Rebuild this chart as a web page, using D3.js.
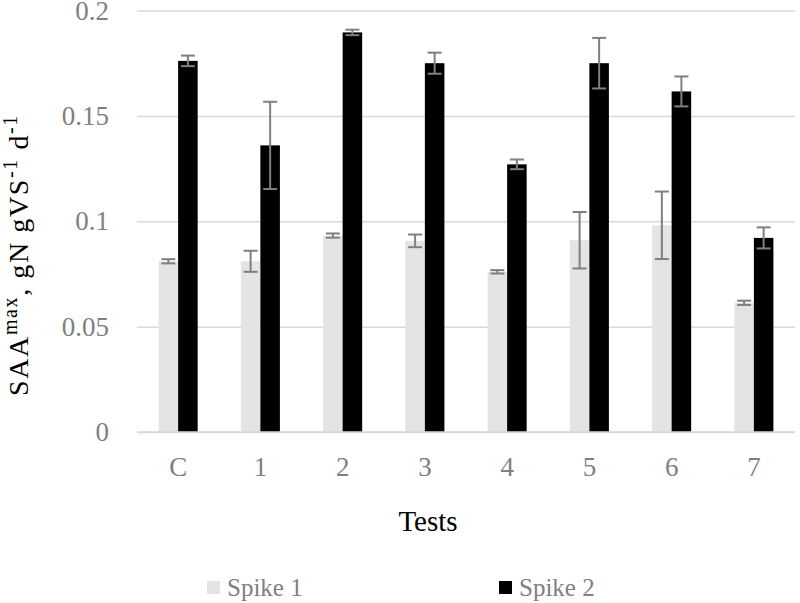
<!DOCTYPE html>
<html>
<head>
<meta charset="utf-8">
<script src="https://cdn.jsdelivr.net/npm/d3@7"></script>
<style>
  html, body { margin: 0; padding: 0; background: #fff; }
  svg { display: block; }
</style>
</head>
<body>
<svg id="chart" width="800" height="603"></svg>
<script>
const categories = ["C", "1", "2", "3", "4", "5", "6", "7"];
const seriesNames = ["Spike 1", "Spike 2"];
const spike1 = [0.081, 0.081, 0.0932, 0.0907, 0.076, 0.091, 0.0981, 0.0613];
const spike1Err = [0.001, 0.005, 0.001, 0.003, 0.0008, 0.0134, 0.016, 0.001];
const spike2 = [0.1761, 0.136, 0.1896, 0.175, 0.127, 0.175, 0.1616, 0.0921];
const spike2Err = [0.0025, 0.0207, 0.0013, 0.005, 0.0023, 0.012, 0.0071, 0.005];
const yTicks = [0, 0.05, 0.1, 0.15, 0.2];
const yTickLabels = ["0", "0.05", "0.1", "0.15", "0.2"];
const colors = ["#e4e4e4", "#000000"];

const svg = d3.select("#chart");
const font = "Liberation Serif";
const mLeft = 137, mRight = 795, mTop = 10.5, mBottom = 432;

const x0 = d3.scaleBand().domain(categories).range([mLeft, mRight])
  .paddingInner(0.525).paddingOuter(0.2625);
const x1 = d3.scaleBand().domain(seriesNames).range([0, x0.bandwidth()]);
const y = d3.scaleLinear().domain([0, 0.2]).range([mBottom, mTop]);

// gridlines
const yAxis = d3.axisLeft(y).tickValues(yTicks)
  .tickFormat((d, i) => yTickLabels[i])
  .tickSize(-(mRight - mLeft)).tickPadding(28);
const gy = svg.append("g").attr("transform", `translate(${mLeft},0)`).call(yAxis)
  .attr("font-family", font).attr("font-size", 27);
gy.select(".domain").remove();
gy.selectAll(".tick line").attr("stroke", "#d9d9d9").attr("stroke-width", 1.5);
gy.selectAll(".tick text").attr("fill", "#808080");

// bars
const data = categories.map((c, i) => ({
  cat: c,
  vals: [
    { s: seriesNames[0], v: spike1[i], e: spike1Err[i], c: colors[0] },
    { s: seriesNames[1], v: spike2[i], e: spike2Err[i], c: colors[1] }
  ]
}));

const groups = svg.append("g").selectAll("g").data(data).join("g")
  .attr("transform", d => `translate(${x0(d.cat)},0)`);
groups.selectAll("rect").data(d => d.vals).join("rect")
  .attr("x", d => x1(d.s))
  .attr("width", x1.bandwidth())
  .attr("y", d => y(d.v))
  .attr("height", d => y(0) - y(d.v))
  .attr("fill", d => d.c);

// x axis line
const xAxis = d3.axisBottom(x0).tickSize(0).tickPadding(25);
const gx = svg.append("g").attr("transform", `translate(0,${mBottom})`).call(xAxis)
  .attr("font-family", font).attr("font-size", 27);
gx.select(".domain").attr("stroke", "#d9d9d9").attr("stroke-width", 1.5)
  .attr("d", `M${mLeft},0H${mRight}`);
gx.selectAll(".tick text").attr("fill", "#808080");

// error bars
const eb = groups.selectAll("g.err").data(d => d.vals).join("g").attr("class", "err");
const cap = 7;
eb.append("line")
  .attr("x1", d => x1(d.s) + x1.bandwidth() / 2).attr("x2", d => x1(d.s) + x1.bandwidth() / 2)
  .attr("y1", d => y(d.v + d.e)).attr("y2", d => y(d.v - d.e));
eb.append("line")
  .attr("x1", d => x1(d.s) + x1.bandwidth() / 2 - cap).attr("x2", d => x1(d.s) + x1.bandwidth() / 2 + cap)
  .attr("y1", d => y(d.v + d.e)).attr("y2", d => y(d.v + d.e));
eb.append("line")
  .attr("x1", d => x1(d.s) + x1.bandwidth() / 2 - cap).attr("x2", d => x1(d.s) + x1.bandwidth() / 2 + cap)
  .attr("y1", d => y(d.v - d.e)).attr("y2", d => y(d.v - d.e));
eb.selectAll("line").attr("stroke", "#7f7f7f").attr("stroke-width", 2);

// y-axis title
const yt = svg.append("text")
  .attr("transform", "translate(28,255) rotate(-90)")
  .attr("text-anchor", "middle")
  .attr("font-family", font).attr("font-size", 28).attr("fill", "#000")
  .attr("letter-spacing", 1.6);
yt.append("tspan").text("SAA");
yt.append("tspan").text("max").attr("dy", -11).attr("font-size", 20);
yt.append("tspan").text(", gN gVS").attr("dy", 11);
yt.append("tspan").text("-1").attr("dy", -11).attr("font-size", 20);
yt.append("tspan").text(" d").attr("dy", 11);
yt.append("tspan").text("-1").attr("dy", -11).attr("font-size", 20);

// x-axis title
svg.append("text").attr("x", 428).attr("y", 531).attr("text-anchor", "middle")
  .attr("font-family", font).attr("font-size", 29).attr("fill", "#000")
  .text("Tests");

// legend
const legendX = [207, 499];
const lg = svg.append("g").selectAll("g").data(seriesNames).join("g")
  .attr("transform", (d, i) => `translate(${legendX[i]},0)`);
lg.append("rect").attr("x", 0).attr("y", 581).attr("width", 13).attr("height", 13)
  .attr("fill", (d, i) => colors[i]);
lg.append("text").attr("x", 20).attr("y", 596)
  .attr("font-family", font).attr("font-size", 25).attr("fill", "#808080")
  .text(d => d);
</script>
</body>
</html>
